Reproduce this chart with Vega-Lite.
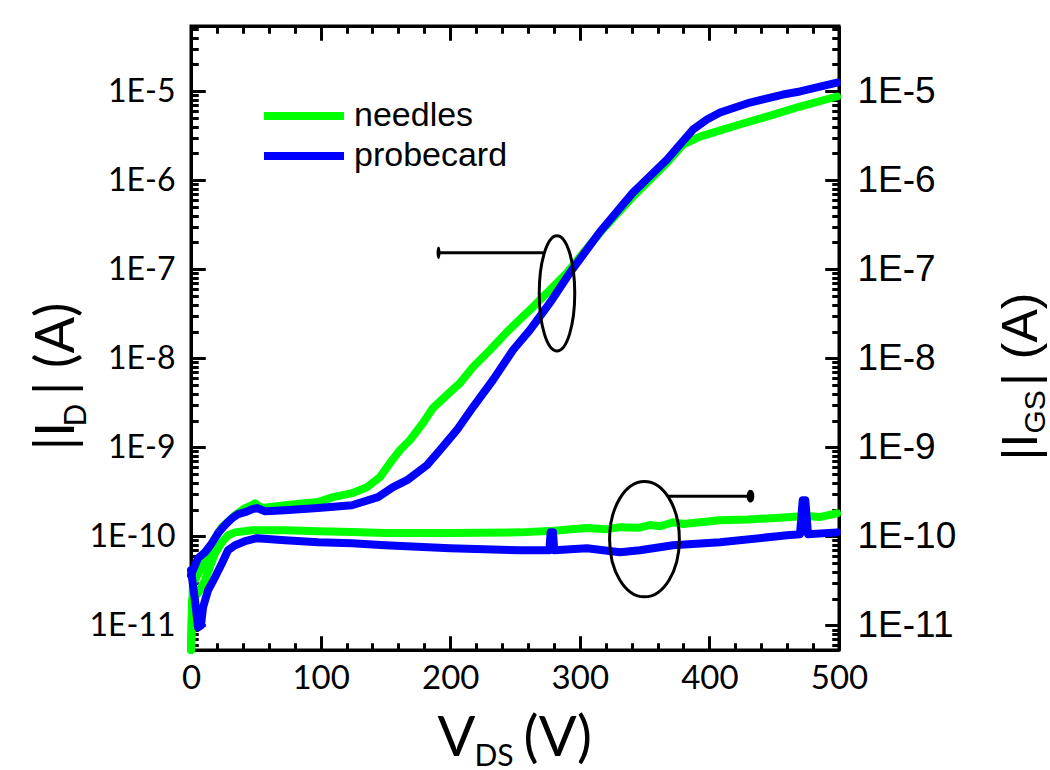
{
  "$schema": "https://vega.github.io/schema/vega-lite/v6.json",
  "width": 648,
  "height": 624,
  "autosize": {"type": "none"},
  "padding": {"left": 191, "top": 26, "right": 211, "bottom": 120},
  "background": "white",
  "config": {
    "view": {"stroke": "black", "strokeWidth": 3}
  },
  "data": {"values": [
      {"V": 0, "I": 5.3e-12, "sample": "needles", "current": "ID"},
      {"V": 1.5, "I": 2.98e-11, "sample": "needles", "current": "ID"},
      {"V": 8.5, "I": 4.53e-11, "sample": "needles", "current": "ID"},
      {"V": 16.2, "I": 8.38e-11, "sample": "needles", "current": "ID"},
      {"V": 23.9, "I": 1.27e-10, "sample": "needles", "current": "ID"},
      {"V": 34.0, "I": 1.73e-10, "sample": "needles", "current": "ID"},
      {"V": 41.7, "I": 2.08e-10, "sample": "needles", "current": "ID"},
      {"V": 47.1, "I": 2.25e-10, "sample": "needles", "current": "ID"},
      {"V": 49.4, "I": 2.36e-10, "sample": "needles", "current": "ID"},
      {"V": 54.8, "I": 2.08e-10, "sample": "needles", "current": "ID"},
      {"V": 72.5, "I": 2.24e-10, "sample": "needles", "current": "ID"},
      {"V": 98.0, "I": 2.43e-10, "sample": "needles", "current": "ID"},
      {"V": 109.6, "I": 2.76e-10, "sample": "needles", "current": "ID"},
      {"V": 124.2, "I": 3.06e-10, "sample": "needles", "current": "ID"},
      {"V": 135.8, "I": 3.57e-10, "sample": "needles", "current": "ID"},
      {"V": 145.8, "I": 4.63e-10, "sample": "needles", "current": "ID"},
      {"V": 153.5, "I": 6.66e-10, "sample": "needles", "current": "ID"},
      {"V": 161.3, "I": 9.33e-10, "sample": "needles", "current": "ID"},
      {"V": 169.0, "I": 1.21e-9, "sample": "needles", "current": "ID"},
      {"V": 179.0, "I": 1.88e-9, "sample": "needles", "current": "ID"},
      {"V": 186.7, "I": 2.77e-9, "sample": "needles", "current": "ID"},
      {"V": 197.5, "I": 3.87e-9, "sample": "needles", "current": "ID"},
      {"V": 207.6, "I": 5.28e-9, "sample": "needles", "current": "ID"},
      {"V": 217.6, "I": 8.0e-9, "sample": "needles", "current": "ID"},
      {"V": 230.7, "I": 1.24e-8, "sample": "needles", "current": "ID"},
      {"V": 243.8, "I": 1.98e-8, "sample": "needles", "current": "ID"},
      {"V": 263.9, "I": 3.79e-8, "sample": "needles", "current": "ID"},
      {"V": 290.1, "I": 9.14e-8, "sample": "needles", "current": "ID"},
      {"V": 315.6, "I": 2.58e-7, "sample": "needles", "current": "ID"},
      {"V": 341.0, "I": 6.55e-7, "sample": "needles", "current": "ID"},
      {"V": 367.3, "I": 1.58e-6, "sample": "needles", "current": "ID"},
      {"V": 379.6, "I": 2.51e-6, "sample": "needles", "current": "ID"},
      {"V": 392.7, "I": 3.09e-6, "sample": "needles", "current": "ID"},
      {"V": 418.2, "I": 4.01e-6, "sample": "needles", "current": "ID"},
      {"V": 444.4, "I": 5.19e-6, "sample": "needles", "current": "ID"},
      {"V": 469.9, "I": 6.73e-6, "sample": "needles", "current": "ID"},
      {"V": 498.5, "I": 8.72e-6, "sample": "needles", "current": "ID"},

      {"V": 0, "I": 3.66e-11, "sample": "probecard", "current": "ID"},
      {"V": 0.8, "I": 3.95e-11, "sample": "probecard", "current": "ID"},
      {"V": 5.4, "I": 5.69e-11, "sample": "probecard", "current": "ID"},
      {"V": 10.8, "I": 6.64e-11, "sample": "probecard", "current": "ID"},
      {"V": 16.2, "I": 8.38e-11, "sample": "probecard", "current": "ID"},
      {"V": 20.8, "I": 1.086e-10, "sample": "probecard", "current": "ID"},
      {"V": 26.2, "I": 1.336e-10, "sample": "probecard", "current": "ID"},
      {"V": 31.6, "I": 1.6e-10, "sample": "probecard", "current": "ID"},
      {"V": 36.3, "I": 1.78e-10, "sample": "probecard", "current": "ID"},
      {"V": 41.7, "I": 1.87e-10, "sample": "probecard", "current": "ID"},
      {"V": 47.1, "I": 2.02e-10, "sample": "probecard", "current": "ID"},
      {"V": 50.9, "I": 2.08e-10, "sample": "probecard", "current": "ID"},
      {"V": 57.1, "I": 1.92e-10, "sample": "probecard", "current": "ID"},
      {"V": 72.5, "I": 1.97e-10, "sample": "probecard", "current": "ID"},
      {"V": 98.0, "I": 2.08e-10, "sample": "probecard", "current": "ID"},
      {"V": 124.2, "I": 2.24e-10, "sample": "probecard", "current": "ID"},
      {"V": 144.3, "I": 2.76e-10, "sample": "probecard", "current": "ID"},
      {"V": 155.9, "I": 3.57e-10, "sample": "probecard", "current": "ID"},
      {"V": 166.7, "I": 4.28e-10, "sample": "probecard", "current": "ID"},
      {"V": 182.1, "I": 6.32e-10, "sample": "probecard", "current": "ID"},
      {"V": 192.1, "I": 9.33e-10, "sample": "probecard", "current": "ID"},
      {"V": 205.2, "I": 1.57e-9, "sample": "probecard", "current": "ID"},
      {"V": 217.6, "I": 2.84e-9, "sample": "probecard", "current": "ID"},
      {"V": 233.0, "I": 5.71e-9, "sample": "probecard", "current": "ID"},
      {"V": 248.5, "I": 1.24e-8, "sample": "probecard", "current": "ID"},
      {"V": 261.6, "I": 2.09e-8, "sample": "probecard", "current": "ID"},
      {"V": 277.0, "I": 4.21e-8, "sample": "probecard", "current": "ID"},
      {"V": 292.4, "I": 9.15e-8, "sample": "probecard", "current": "ID"},
      {"V": 315.6, "I": 2.64e-7, "sample": "probecard", "current": "ID"},
      {"V": 341.0, "I": 7.26e-7, "sample": "probecard", "current": "ID"},
      {"V": 367.3, "I": 1.71e-6, "sample": "probecard", "current": "ID"},
      {"V": 387.3, "I": 3.71e-6, "sample": "probecard", "current": "ID"},
      {"V": 398.1, "I": 4.81e-6, "sample": "probecard", "current": "ID"},
      {"V": 408.2, "I": 5.76e-6, "sample": "probecard", "current": "ID"},
      {"V": 431.3, "I": 7.46e-6, "sample": "probecard", "current": "ID"},
      {"V": 456.8, "I": 9.18e-6, "sample": "probecard", "current": "ID"},
      {"V": 469.9, "I": 9.93e-6, "sample": "probecard", "current": "ID"},
      {"V": 498.5, "I": 1.25e-5, "sample": "probecard", "current": "ID"},

      {"V": 0, "I": 5.3e-12, "sample": "needles", "current": "IGS"},
      {"V": 0.8, "I": 1.91e-11, "sample": "needles", "current": "IGS"},
      {"V": 5.4, "I": 2.3e-11, "sample": "needles", "current": "IGS"},
      {"V": 10.8, "I": 3.21e-11, "sample": "needles", "current": "IGS"},
      {"V": 18.5, "I": 6.47e-11, "sample": "needles", "current": "IGS"},
      {"V": 23.9, "I": 8.61e-11, "sample": "needles", "current": "IGS"},
      {"V": 28.5, "I": 1.03e-10, "sample": "needles", "current": "IGS"},
      {"V": 34.0, "I": 1.11e-10, "sample": "needles", "current": "IGS"},
      {"V": 47.1, "I": 1.17e-10, "sample": "needles", "current": "IGS"},
      {"V": 72.5, "I": 1.17e-10, "sample": "needles", "current": "IGS"},
      {"V": 98.0, "I": 1.14e-10, "sample": "needles", "current": "IGS"},
      {"V": 124.0, "I": 1.12e-10, "sample": "needles", "current": "IGS"},
      {"V": 150.0, "I": 1.09e-10, "sample": "needles", "current": "IGS"},
      {"V": 200.0, "I": 1.09e-10, "sample": "needles", "current": "IGS"},
      {"V": 254.0, "I": 1.11e-10, "sample": "needles", "current": "IGS"},
      {"V": 280.0, "I": 1.16e-10, "sample": "needles", "current": "IGS"},
      {"V": 305.5, "I": 1.24e-10, "sample": "needles", "current": "IGS"},
      {"V": 320.0, "I": 1.2e-10, "sample": "needles", "current": "IGS"},
      {"V": 331.0, "I": 1.27e-10, "sample": "needles", "current": "IGS"},
      {"V": 345.0, "I": 1.25e-10, "sample": "needles", "current": "IGS"},
      {"V": 354.0, "I": 1.34e-10, "sample": "needles", "current": "IGS"},
      {"V": 362.0, "I": 1.3e-10, "sample": "needles", "current": "IGS"},
      {"V": 372.0, "I": 1.44e-10, "sample": "needles", "current": "IGS"},
      {"V": 380.0, "I": 1.38e-10, "sample": "needles", "current": "IGS"},
      {"V": 408.0, "I": 1.52e-10, "sample": "needles", "current": "IGS"},
      {"V": 430.0, "I": 1.55e-10, "sample": "needles", "current": "IGS"},
      {"V": 460.0, "I": 1.64e-10, "sample": "needles", "current": "IGS"},
      {"V": 475.0, "I": 1.7e-10, "sample": "needles", "current": "IGS"},
      {"V": 485.0, "I": 1.65e-10, "sample": "needles", "current": "IGS"},
      {"V": 498.5, "I": 1.82e-10, "sample": "needles", "current": "IGS"},

      {"V": 0, "I": 4.16e-11, "sample": "probecard", "current": "IGS"},
      {"V": 3.1, "I": 1.91e-11, "sample": "probecard", "current": "IGS"},
      {"V": 5.4, "I": 9.5e-12, "sample": "probecard", "current": "IGS"},
      {"V": 7.7, "I": 1.0e-11, "sample": "probecard", "current": "IGS"},
      {"V": 9.3, "I": 1.6e-11, "sample": "probecard", "current": "IGS"},
      {"V": 13.1, "I": 2.48e-11, "sample": "probecard", "current": "IGS"},
      {"V": 18.5, "I": 3.47e-11, "sample": "probecard", "current": "IGS"},
      {"V": 23.9, "I": 4.99e-11, "sample": "probecard", "current": "IGS"},
      {"V": 28.5, "I": 6.98e-11, "sample": "probecard", "current": "IGS"},
      {"V": 34.0, "I": 7.95e-11, "sample": "probecard", "current": "IGS"},
      {"V": 41.7, "I": 8.83e-11, "sample": "probecard", "current": "IGS"},
      {"V": 50.9, "I": 9.55e-11, "sample": "probecard", "current": "IGS"},
      {"V": 72.5, "I": 9.07e-11, "sample": "probecard", "current": "IGS"},
      {"V": 98.0, "I": 8.61e-11, "sample": "probecard", "current": "IGS"},
      {"V": 124.2, "I": 8.38e-11, "sample": "probecard", "current": "IGS"},
      {"V": 149.7, "I": 7.95e-11, "sample": "probecard", "current": "IGS"},
      {"V": 199.8, "I": 7.36e-11, "sample": "probecard", "current": "IGS"},
      {"V": 253.9, "I": 6.98e-11, "sample": "probecard", "current": "IGS"},
      {"V": 276.5, "I": 6.98e-11, "sample": "probecard", "current": "IGS"},
      {"V": 277.5, "I": 1.11e-10, "sample": "probecard", "current": "IGS"},
      {"V": 279.3, "I": 1.11e-10, "sample": "probecard", "current": "IGS"},
      {"V": 280.3, "I": 6.98e-11, "sample": "probecard", "current": "IGS"},
      {"V": 305.5, "I": 7.36e-11, "sample": "probecard", "current": "IGS"},
      {"V": 331.0, "I": 6.64e-11, "sample": "probecard", "current": "IGS"},
      {"V": 346.4, "I": 6.98e-11, "sample": "probecard", "current": "IGS"},
      {"V": 371.9, "I": 7.95e-11, "sample": "probecard", "current": "IGS"},
      {"V": 408.2, "I": 8.61e-11, "sample": "probecard", "current": "IGS"},
      {"V": 459.9, "I": 1.03e-10, "sample": "probecard", "current": "IGS"},
      {"V": 469.9, "I": 1.06e-10, "sample": "probecard", "current": "IGS"},
      {"V": 472.0, "I": 2.55e-10, "sample": "probecard", "current": "IGS"},
      {"V": 474.0, "I": 2.55e-10, "sample": "probecard", "current": "IGS"},
      {"V": 476.1, "I": 1.06e-10, "sample": "probecard", "current": "IGS"},
      {"V": 498.5, "I": 1.11e-10, "sample": "probecard", "current": "IGS"}
  ]},
  "resolve": {"axis": {"x": "independent", "y": "independent"}},
  "layer": [
    {
      "mark": {"type": "line", "strokeWidth": 8, "strokeCap": "round", "strokeJoin": "round"},
      "encoding": {
        "x": {"field": "V", "type": "quantitative", "scale": {"domain": [0, 500], "nice": false, "zero": false},
          "axis": {"orient": "bottom", "values": [0, 100, 200, 300, 400, 500], "domain": true, "domainColor": "black", "domainWidth": 3,
            "grid": true, "gridDash": [14, 2000], "gridColor": "black", "gridWidth": 3,
            "ticks": true, "tickSize": -14, "tickColor": "black", "tickWidth": 3,
            "labelFont": "Lato", "labelFontSize": 33, "labelPadding": 26, "labelFlush": false, "labelColor": "black",
            "title": "V", "titleFont": "Lato", "titleFontSize": 56, "titleFontWeight": "normal", "titleColor": "black", "titleAlign": "left", "titleBaseline": "alphabetic", "titleX": 246, "titleY": 105}},
        "y": {"field": "I", "type": "quantitative", "scale": {"type": "log", "domain": [5.3e-12, 5.4e-5], "nice": false},
          "axis": {"orient": "left", "values": [1e-11, 1e-10, 1e-9, 1e-8, 1e-7, 1e-6, 1e-5], "domain": true, "domainColor": "black", "domainWidth": 3,
            "grid": true, "gridDash": [14, 2000], "gridColor": "black", "gridWidth": 3,
            "ticks": true, "tickSize": -14, "tickColor": "black", "tickWidth": 3,
            "labelFont": "Lato", "labelFontSize": 32, "labelPadding": 30, "labelColor": "black",
            "labelExpr": "'1E' + round(log(datum.value)/LN10)",
            "title": "|I", "titleFont": "Lato", "titleFontSize": 54, "titleFontWeight": "normal", "titleColor": "black", "titleAngle": -90, "titleAlign": "left", "titleBaseline": "alphabetic", "titleX": -118, "titleY": 424}},
        "color": {"field": "sample", "type": "nominal", "scale": {"domain": ["needles", "probecard"], "range": ["#00ff00", "#0000ff"]},
          "legend": {"orient": "none", "legendX": 96, "legendY": 73, "title": null, "symbolType": "M-4,0H4", "symbolSize": 400, "symbolStrokeWidth": 8, "labelFont": "Liberation Sans", "labelFontSize": 34, "labelOffset": 33, "rowPadding": 6, "padding": 0}},
        "detail": {"field": "current", "type": "nominal"}
      }
    },
    {
      "mark": {"type": "point", "opacity": 0},
      "encoding": {
        "x": {"field": "V", "type": "quantitative", "scale": {"domain": [0, 500], "nice": false, "zero": false},
          "axis": {"orient": "top", "values": [0, 100, 200, 300, 400, 500], "domain": true, "domainColor": "black", "domainWidth": 3, "labels": false,
            "grid": true, "gridDash": [14, 2000], "gridColor": "black", "gridWidth": 3,
            "ticks": true, "tickSize": -14, "tickColor": "black", "tickWidth": 3, "title": null}},
        "y": {"field": "I", "type": "quantitative", "scale": {"type": "log", "domain": [5.3e-12, 5.4e-5], "nice": false},
          "axis": {"orient": "right", "values": [1e-11, 1e-10, 1e-9, 1e-8, 1e-7, 1e-6, 1e-5], "domain": true, "domainColor": "black", "domainWidth": 3,
            "grid": true, "gridDash": [14, 2000], "gridColor": "black", "gridWidth": 3,
            "ticks": true, "tickSize": -14, "tickColor": "black", "tickWidth": 3,
            "labelFont": "Liberation Sans", "labelFontSize": 37, "labelPadding": 32, "labelColor": "black",
            "labelExpr": "'1E' + round(log(datum.value)/LN10)",
            "title": "|I", "titleFont": "Liberation Sans", "titleFontSize": 50, "titleFontWeight": "normal", "titleColor": "black", "titleAngle": -90, "titleAlign": "left", "titleBaseline": "alphabetic", "titleX": 197, "titleY": 434}}
      }
    },
    {
      "mark": {"type": "point", "opacity": 0},
      "encoding": {
        "x": {"field": "V", "type": "quantitative", "scale": {"domain": [0, 500], "nice": false, "zero": false},
          "axis": {"orient": "bottom", "values": [20,40,60,80,120,140,160,180,220,240,260,280,320,340,360,380,420,440,460,480], "domain": false, "labels": false,
            "grid": true, "gridDash": [7, 2000], "gridColor": "black", "gridWidth": 3,
            "ticks": true, "tickSize": -7, "tickColor": "black", "tickWidth": 3,
            "title": "DS", "titleFont": "Lato", "titleFontSize": 30, "titleFontWeight": "normal", "titleColor": "black", "titleAlign": "left", "titleBaseline": "alphabetic", "titleX": 283, "titleY": 115}},
        "y": {"field": "I", "type": "quantitative", "scale": {"type": "log", "domain": [5.3e-12, 5.4e-5], "nice": false},
          "axis": {"orient": "left", "domain": false, "labels": false,
            "values": [6e-12,7e-12,8e-12,9e-12,2e-11,3e-11,4e-11,5e-11,6e-11,7e-11,8e-11,9e-11,2e-10,3e-10,4e-10,5e-10,6e-10,7e-10,8e-10,9e-10,2e-9,3e-9,4e-9,5e-9,6e-9,7e-9,8e-9,9e-9,2e-8,3e-8,4e-8,5e-8,6e-8,7e-8,8e-8,9e-8,2e-7,3e-7,4e-7,5e-7,6e-7,7e-7,8e-7,9e-7,2e-6,3e-6,4e-6,5e-6,6e-6,7e-6,8e-6,9e-6,2e-5,3e-5,4e-5,5e-5],
            "grid": true, "gridDash": [7, 2000], "gridColor": "black", "gridWidth": 3,
            "ticks": true, "tickSize": -7, "tickColor": "black", "tickWidth": 3,
            "title": "D", "titleFont": "Lato", "titleFontSize": 30, "titleFontWeight": "normal", "titleColor": "black", "titleAngle": -90, "titleAlign": "left", "titleBaseline": "alphabetic", "titleX": -106, "titleY": 400}}
      }
    },
    {
      "mark": {"type": "point", "opacity": 0},
      "encoding": {
        "x": {"field": "V", "type": "quantitative", "scale": {"domain": [0, 500], "nice": false, "zero": false},
          "axis": {"orient": "top", "values": [20,40,60,80,120,140,160,180,220,240,260,280,320,340,360,380,420,440,460,480], "domain": false, "labels": false,
            "grid": true, "gridDash": [7, 2000], "gridColor": "black", "gridWidth": 3,
            "ticks": true, "tickSize": -7, "tickColor": "black", "tickWidth": 3, "title": null}},
        "y": {"field": "I", "type": "quantitative", "scale": {"type": "log", "domain": [5.3e-12, 5.4e-5], "nice": false},
          "axis": {"orient": "right", "domain": false, "labels": false,
            "values": [6e-12,7e-12,8e-12,9e-12,2e-11,3e-11,4e-11,5e-11,6e-11,7e-11,8e-11,9e-11,2e-10,3e-10,4e-10,5e-10,6e-10,7e-10,8e-10,9e-10,2e-9,3e-9,4e-9,5e-9,6e-9,7e-9,8e-9,9e-9,2e-8,3e-8,4e-8,5e-8,6e-8,7e-8,8e-8,9e-8,2e-7,3e-7,4e-7,5e-7,6e-7,7e-7,8e-7,9e-7,2e-6,3e-6,4e-6,5e-6,6e-6,7e-6,8e-6,9e-6,2e-5,3e-5,4e-5,5e-5],
            "grid": true, "gridDash": [7, 2000], "gridColor": "black", "gridWidth": 3,
            "ticks": true, "tickSize": -7, "tickColor": "black", "tickWidth": 3,
            "title": "GS", "titleFont": "Liberation Sans", "titleFontSize": 30, "titleFontWeight": "normal", "titleColor": "black", "titleAngle": -90, "titleAlign": "left", "titleBaseline": "alphabetic", "titleX": 205, "titleY": 407}}
      }
    },
    {
      "mark": {"type": "point", "opacity": 0},
      "encoding": {
        "x": {"field": "V", "type": "quantitative", "scale": {"domain": [0, 500], "nice": false, "zero": false},
          "axis": {"orient": "bottom", "grid": false, "domain": false, "labels": false, "ticks": false,
            "title": "(V)", "titleFont": "Lato", "titleFontSize": 56, "titleFontWeight": "normal", "titleColor": "black", "titleAlign": "left", "titleBaseline": "alphabetic", "titleX": 332, "titleY": 105}},
        "y": {"field": "I", "type": "quantitative", "scale": {"type": "log", "domain": [5.3e-12, 5.4e-5], "nice": false},
          "axis": {"orient": "left", "grid": false, "domain": false, "labels": false, "ticks": false,
            "title": "| (A)", "titleFont": "Lato", "titleFontSize": 54, "titleFontWeight": "normal", "titleColor": "black", "titleAngle": -90, "titleAlign": "right", "titleBaseline": "alphabetic", "titleX": -118, "titleY": 276}}
      }
    },
    {
      "mark": {"type": "point", "opacity": 0},
      "encoding": {
        "x": {"field": "V", "type": "quantitative", "scale": {"domain": [0, 500], "nice": false, "zero": false}, "axis": null},
        "y": {"field": "I", "type": "quantitative", "scale": {"type": "log", "domain": [5.3e-12, 5.4e-5], "nice": false},
          "axis": {"orient": "right", "grid": false, "domain": false, "labels": false, "ticks": false,
            "title": "| (A)", "titleFont": "Liberation Sans", "titleFontSize": 50, "titleFontWeight": "normal", "titleColor": "black", "titleAngle": -90, "titleAlign": "right", "titleBaseline": "alphabetic", "titleX": 197, "titleY": 266}}
      }
    },
    {
      "data": {"values": [
        {"V": 282.4, "I": 5.37e-8, "group": "drain"},
        {"V": 349.9, "I": 9.31e-11, "group": "gate"}
      ]},
      "mark": {"type": "point", "filled": false, "stroke": "black", "strokeWidth": 3, "opacity": 1, "size": 13300},
      "encoding": {
        "x": {"field": "V", "type": "quantitative", "scale": {"domain": [0, 500], "nice": false, "zero": false}, "axis": null},
        "y": {"field": "I", "type": "quantitative", "scale": {"type": "log", "domain": [5.3e-12, 5.4e-5], "nice": false}, "axis": null},
        "shape": {"field": "group", "type": "nominal", "scale": {"domain": ["drain", "gate"], "range": ["M0,-1A0.308,1 0 1,1 0,1A0.308,1 0 1,1 0,-1Z", "M0,-1A0.605,1 0 1,1 0,1A0.605,1 0 1,1 0,-1Z"]}, "legend": null}
      }
    },
    {
      "data": {"values": [
        {"V": 271.6, "V2": 191.0, "I": 1.535e-7, "dir": "left"},
        {"V": 368.0, "V2": 431.7, "I": 2.83e-10, "dir": "right"}
      ]},
      "layer": [
        {
          "mark": {"type": "rule", "color": "black", "strokeWidth": 3},
          "encoding": {
            "x": {"field": "V", "type": "quantitative", "scale": {"domain": [0, 500], "nice": false, "zero": false}, "axis": null},
            "x2": {"field": "V2"},
            "y": {"field": "I", "type": "quantitative", "scale": {"type": "log", "domain": [5.3e-12, 5.4e-5], "nice": false}, "axis": null}
          }
        },
        {
          "mark": {"type": "point", "filled": true, "color": "black", "opacity": 1, "size": 160},
          "encoding": {
            "x": {"field": "V2", "type": "quantitative", "scale": {"domain": [0, 500], "nice": false, "zero": false}, "axis": null},
            "y": {"field": "I", "type": "quantitative", "scale": {"type": "log", "domain": [5.3e-12, 5.4e-5], "nice": false}, "axis": null},
            "shape": {"field": "dir", "type": "nominal", "scale": {"domain": ["left", "right"], "range": ["triangle-left", "triangle-right"]}, "legend": null}
          }
        }
      ]
    }
  ]
}
